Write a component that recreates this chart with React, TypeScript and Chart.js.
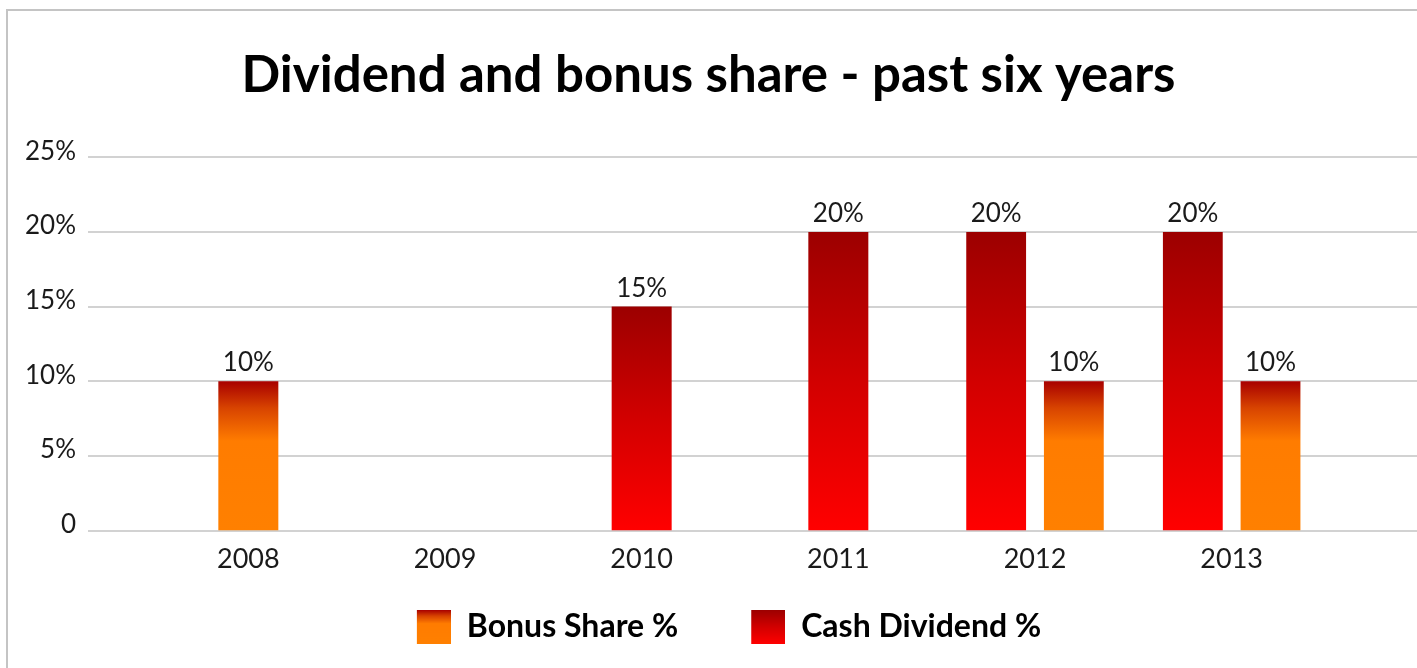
import { useEffect, useRef } from "react";
import { Chart, registerables } from "chart.js";

Chart.register(...registerables);

const years = ["2008", "2009", "2010", "2011", "2012", "2013"];
const cashDividend: (number | null)[] = [null, null, 15, 20, 20, 20];
const bonusShare: (number | null)[] = [10, null, null, null, 10, 10];
const yMin = 0;
const yMax = 25;
const yStep = 5;

const FONT = "Lato, 'Open Sans', sans-serif";

const cashStops: [number, string][] = [
  [0, "#ff0000"],
  [0.5, "#d20000"],
  [1, "#9c0000"],
];
const bonusStops: [number, string][] = [
  [0, "#ff8000"],
  [0.6, "#ff7c00"],
  [0.82, "#d84400"],
  [1, "#a80000"],
];

function barGradient(stops: [number, string][]) {
  return (c: any) => {
    const chart = c.chart;
    if (c.type !== "data" || !chart.chartArea) return stops[0][1];
    const v = c.raw;
    if (v == null) return stops[0][1];
    const ys = chart.scales.y;
    const base = ys.getPixelForValue(0);
    const top = ys.getPixelForValue(v);
    const g = chart.ctx.createLinearGradient(0, base, 0, top);
    stops.forEach(([o, col]) => g.addColorStop(o, col));
    return g;
  };
}

const ICON_W = 75;
const ICON = 34;

function legendIcon(stops: [number, string][]) {
  const cv = document.createElement("canvas");
  cv.width = ICON_W;
  cv.height = ICON;
  const cx = cv.getContext("2d")!;
  const g = cx.createLinearGradient(0, ICON, 0, 0);
  stops.forEach(([o, col]) => g.addColorStop(o, col));
  cx.fillStyle = g;
  cx.fillRect(ICON_W - ICON, 0, ICON, ICON);
  return cv;
}

const gridPlugin = {
  id: "extGrid",
  beforeDatasetsDraw(chart: any) {
    const ys = chart.scales.y;
    const ctx = chart.ctx;
    ctx.save();
    ctx.strokeStyle = "#d2d2d2";
    ctx.lineWidth = 2;
    ys.ticks.forEach((t: any) => {
      const py = Math.round(ys.getPixelForValue(t.value));
      ctx.beginPath();
      ctx.moveTo(chart.chartArea.left - 62, py);
      ctx.lineTo(chart.width, py);
      ctx.stroke();
    });
    ctx.restore();
  },
};

const labelPlugin = {
  id: "barLabels",
  afterDatasetsDraw(chart: any) {
    const ctx = chart.ctx;
    ctx.save();
    ctx.font = `26px ${FONT}`;
    ctx.fillStyle = "#1a1a1a";
    ctx.textAlign = "center";
    ctx.textBaseline = "alphabetic";
    chart.data.datasets.forEach((ds: any, i: number) => {
      const meta = chart.getDatasetMeta(i);
      meta.data.forEach((el: any, j: number) => {
        const v = ds.data[j];
        if (v == null) return;
        ctx.fillText(`${v}%`, el.x, el.y - 10);
      });
    });
    ctx.restore();
  },
};

export default function App() {
  const ref = useRef<HTMLCanvasElement | null>(null);

  useEffect(() => {
    if (!ref.current) return;
    const icons = [legendIcon(cashStops), legendIcon(bonusStops)];
    const chart = new Chart(ref.current, {
      type: "bar",
      data: {
        labels: years,
        datasets: [
          {
            label: "Cash Dividend %",
            data: cashDividend,
            backgroundColor: barGradient(cashStops),
            borderWidth: 0,
            skipNull: true,
            categoryPercentage: 0.79,
            barPercentage: 0.77,
            maxBarThickness: 60,
          } as any,
          {
            label: "Bonus Share %",
            data: bonusShare,
            backgroundColor: barGradient(bonusStops),
            borderWidth: 0,
            skipNull: true,
            categoryPercentage: 0.79,
            barPercentage: 0.77,
            maxBarThickness: 60,
          } as any,
        ],
      },
      options: {
        animation: false,
        responsive: true,
        maintainAspectRatio: false,
        layout: { padding: { left: 0, right: 0, top: 0, bottom: 15 } },
        plugins: {
          tooltip: { enabled: false },
          title: {
            display: true,
            text: "Dividend and bonus share - past six years",
            color: "#000",
            font: { family: FONT, size: 51, weight: "bold" },
            padding: { top: 45, bottom: 51 },
          },
          legend: {
            position: "bottom",
            labels: {
              usePointStyle: true,
              pointStyleWidth: ICON_W,
              color: "#000",
              font: { family: FONT, size: 32, weight: "bold" },
              padding: 32,
              generateLabels: (ch: any) =>
                ch.data.datasets
                  .map((ds: any, i: number) => ({
                    text: ds.label,
                    fillStyle: "#c00000",
                    strokeStyle: "transparent",
                    lineWidth: 0,
                    pointStyle: icons[i],
                    fontColor: "#000",
                    hidden: false,
                    datasetIndex: i,
                  }))
                  .reverse(),
            },
          },
        },
        scales: {
          x: {
            grid: { display: false },
            border: { display: false },
            ticks: { color: "#1a1a1a", font: { family: FONT, size: 27 }, padding: 4 },
          },
          y: {
            min: yMin,
            max: yMax,
            grid: { display: false },
            border: { display: false },
            afterFit: (s: any) => {
              s.width = 150;
            },
            ticks: {
              stepSize: yStep,
              color: "#1a1a1a",
              font: { family: FONT, size: 26 },
              padding: 66,
              labelOffset: -6,
              callback: (v: any) => (Number(v) === 0 ? "0" : `${v}%`),
            },
          },
          yRightSpace: {
            position: "right",
            display: true,
            grid: { display: false },
            border: { display: false },
            ticks: { display: false },
            afterFit: (s: any) => {
              s.width = 87;
            },
          },
        },
      },
      plugins: [gridPlugin, labelPlugin],
    });
    return () => chart.destroy();
  }, []);

  return (
    <div
      style={{
        position: "fixed",
        left: 0,
        top: 0,
        width: 1417,
        height: 668,
        background: "#fff",
        overflow: "hidden",
      }}
    >
      <div
        style={{
          position: "absolute",
          left: 6,
          top: 9,
          width: 1430,
          height: 680,
          borderLeft: "2px solid #c4c4c4",
          borderTop: "2px solid #c4c4c4",
        }}
      />
      <div style={{ position: "absolute", left: 0, top: 0, width: 1417, height: 668 }}>
        <canvas ref={ref} />
      </div>
    </div>
  );
}
